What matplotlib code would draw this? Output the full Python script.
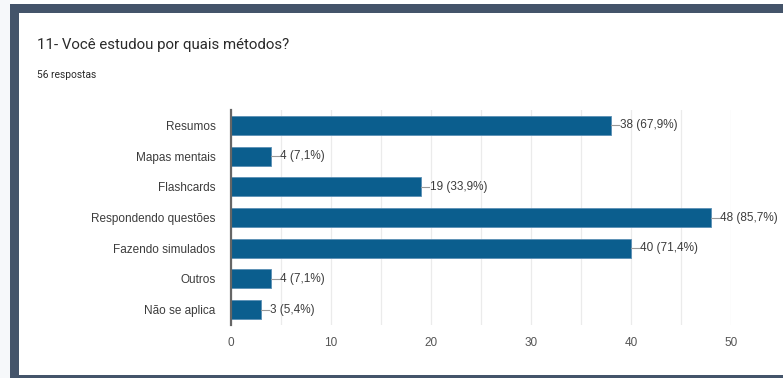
import matplotlib.pyplot as plt
from matplotlib.patches import Rectangle

# Dados
metodos = ['Resumos', 'Mapas mentais', 'Flashcards', 'Respondendo questões',
           'Fazendo simulados', 'Outros', 'Não se aplica']
contagens = [38, 4, 19, 48, 40, 4, 3]
percentuais = ['67,9%', '7,1%', '33,9%', '85,7%', '71,4%', '7,1%', '5,4%']
xticks = [0, 10, 20, 30, 40, 50]

W, H = 783, 378
fig = plt.figure(figsize=(W / 100, H / 100), dpi=100)
fig.patch.set_facecolor('white')

# moldura
borda = '#44546a'
fig.patches.append(Rectangle((0, 0), 10 / W, 1, transform=fig.transFigure,
                             facecolor='#f6f8fa', edgecolor='none', zorder=-2))
fig.patches.append(Rectangle((10 / W, 0), 9 / W, 1 - 4 / H, transform=fig.transFigure,
                             facecolor=borda, edgecolor='none', zorder=-1))
fig.patches.append(Rectangle((10 / W, 1 - 13 / H), 1, 9 / H, transform=fig.transFigure,
                             facecolor=borda, edgecolor='none', zorder=-1))
fig.patches.append(Rectangle((10 / W, 0), 1, 3 / H, transform=fig.transFigure,
                             facecolor=borda, edgecolor='none', zorder=-1))

fig.text(37 / W, 1 - 45 / H, '11- Você estudou por quais métodos?', fontsize=10.8,
         family='Roboto', color='#2a2a2a', va='center')
fig.text(37 / W, 1 - 75 / H, '56 respostas', fontsize=7.4, family='Roboto',
         color='#2a2a2a', va='center')

ax = fig.add_axes([231 / W, (H - 325) / H, 500 / W, 215 / H])
y = list(range(len(metodos)))
ax.barh(y, contagens, height=0.62, color='#0b5e8e', edgecolor='#5b8fb5',
        linewidth=0.6, zorder=2)
ax.set_xlim(0, 50)
ax.set_ylim(len(metodos) - 0.5, -0.5)
ax.set_yticks(y)
ax.set_yticklabels(metodos, family='Liberation Sans', fontsize=8.5, color='#3c3c3c')
ax.set_xticks(xticks)
ax.set_xticklabels([str(v) for v in xticks], family='Liberation Sans', fontsize=8.5,
                   color='#555555')
ax.set_xticks(range(5, 50, 10), minor=True)
ax.tick_params(axis='both', length=0, pad=9)
ax.tick_params(axis='y', pad=11)
ax.tick_params(axis='x', which='minor', length=0)
ax.grid(axis='x', which='both', color='#ebebeb', linewidth=0.9, zorder=0)
for s in ['top', 'right', 'bottom']:
    ax.spines[s].set_visible(False)
ax.spines['left'].set_color('#666666')
ax.spines['left'].set_linewidth(1.6)
ax.spines['left'].set_zorder(3)

for yi, c, p in zip(y, contagens, percentuais):
    ax.plot([c, c + 0.8], [yi, yi], color='#999999', linewidth=0.8, zorder=3,
            clip_on=False)
    ax.text(c + 0.85, yi, f'{c} ({p})', va='center', ha='left', fontsize=8.5,
            family='Liberation Sans', color='#3c3c3c', clip_on=False)

fig.savefig('out.png', dpi=100)
